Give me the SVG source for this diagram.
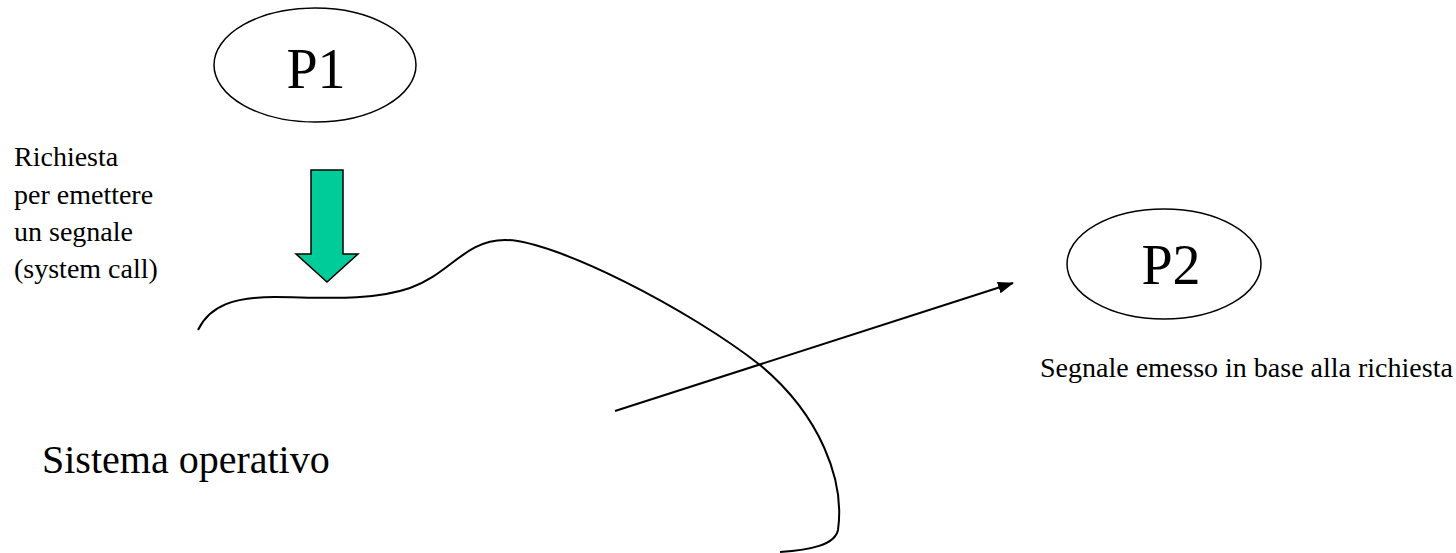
<svg xmlns="http://www.w3.org/2000/svg" width="1456" height="553" viewBox="0 0 1456 553">
<style>
text{font-family:'Liberation Serif','Times New Roman',Times,serif;fill:#000}
.ell{fill:#fff;stroke:#000;stroke-width:1.5}
.ln{fill:none;stroke:#000;stroke-width:2}
</style>
<defs>
<marker id="ah" markerWidth="16" markerHeight="12" refX="15" refY="6" orient="auto" markerUnits="userSpaceOnUse">
<path d="M0,0 L16,6 L0,12 Z" fill="#000"/>
</marker>
</defs>
<rect width="1456" height="553" fill="#fff"/>
<g id="connectors">
<path class="ln" d="M198 330 C210 305,235 297,275 297 S370 302,410 288 S465 240,505 240 C555 240,690 310,760 365 C820 415,845 480,838 530 C835 545,810 550,780 552"/>
<line class="ln" x1="615" y1="411" x2="1013" y2="283" marker-end="url(#ah)"/>
<polygon id="green-arrow" points="311,170 343,170 343,254 358,254 327,282 296,254 311,254" fill="#00CC99" stroke="#000" stroke-width="1.5"/>
</g>
<g id="P1">
<ellipse class="ell" cx="315" cy="65" rx="101" ry="57"/>
<text x="316" y="88" font-size="56" text-anchor="middle" font-family="Liberation Serif, serif">P1</text>
</g>
<g id="P2">
<ellipse class="ell" cx="1164" cy="264" rx="97" ry="55"/>
<text x="1171" y="284" font-size="56" text-anchor="middle" font-family="Liberation Serif, serif">P2</text>
</g>
<g id="label-request">
<text font-size="28" font-family="Liberation Serif, serif">
<tspan x="14" y="166">Richiesta</tspan>
<tspan x="14" y="204">per emettere</tspan>
<tspan x="14" y="241">un segnale</tspan>
<tspan x="14" y="278">(system call)</tspan>
</text>
</g>
<g id="label-signal">
<text x="1040" y="377" font-size="28" font-family="Liberation Serif, serif">Segnale emesso in base alla richiesta</text>
</g>
<g id="label-os">
<text x="42" y="473" font-size="40" font-family="Liberation Serif, serif">Sistema operativo</text>
</g>
</svg>
